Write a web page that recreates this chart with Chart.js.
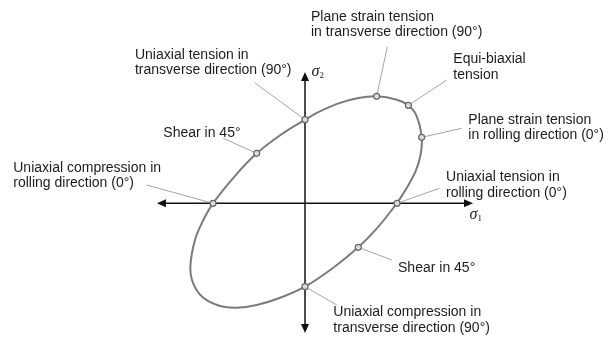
<!DOCTYPE html>
<html><head><meta charset="utf-8">
<script src="https://cdn.jsdelivr.net/npm/chart.js@4/dist/chart.umd.min.js"></script>
<style>html,body{margin:0;padding:0;background:#fff}#wrap{width:616px;height:338px}</style>
</head><body><div id="wrap"><canvas id="c" width="616" height="338"></canvas></div>
<script>
// ---- data (normalised stresses) ----
const states = [
  "Uniaxial tension RD", "Plane strain tension RD", "Equi-biaxial tension",
  "Plane strain tension TD", "Uniaxial tension TD", "Shear 45 (upper)",
  "Uniaxial compression RD", "Shear 45 (lower)", "Uniaxial compression TD"
];
const stateSigma1 = [1.00, 1.268, 1.123, 0.779, 0.00, -0.525, -1.00, 0.579, 0.00];
const stateSigma2 = [0.00, 0.717, 1.065, 1.163, 0.909, 0.543, 0.00, -0.478, -0.906];

const locusSigma1 = [1.00, 1.105, 1.200, 1.255, 1.268, 1.214, 1.123, 0.997, 0.779, 0.594, 0.373, 0.163, 0.00,
  -0.251, -0.525, -0.767, -1.00, -1.105, -1.196, -1.246, -1.215, -1.112, -0.924, -0.742, -0.525, -0.276,
  0.00, 0.311, 0.579, 0.781, 1.00];
const locusSigma2 = [0.00, 0.166, 0.344, 0.523, 0.717, 0.946, 1.065, 1.126, 1.163, 1.147, 1.089, 1.000, 0.909,
  0.754, 0.543, 0.291, 0.00, -0.182, -0.399, -0.691, -0.871, -1.021, -1.116, -1.135, -1.105, -1.029,
  -0.906, -0.697, -0.478, -0.273, 0.00];

const labelTexts = [
  ["Uniaxial tension in", "rolling direction (0°)"],
  ["Plane strain tension", "in rolling direction (0°)"],
  ["Equi-biaxial", "tension"],
  ["Plane strain tension", "in transverse direction (90°)"],
  ["Uniaxial tension in", "transverse direction (90°)"],
  ["Shear in 45°"],
  ["Uniaxial compression in", "rolling direction (0°)"],
  ["Shear in 45°"],
  ["Uniaxial compression in", "transverse direction (90°)"]
];
const axisNames = ["σ", "σ"];
const axisSubs = ["1", "2"];

// ---- layout (data units) ----
const leaderEndX = [1.460, 1.703, 1.540, 0.895, -0.543, -0.888, -1.721, 0.942, 0.345];
const leaderEndY = [0.163, 0.815, 1.340, 1.702, 1.308, 0.707, 0.199, -0.616, -1.105];
const textX = [1.533, 1.775, 1.612, 0.065, -1.848, -1.540, -3.171, 1.011, 0.308];
const textY = [0.242, 0.867, 1.520, 1.987, 1.574, 0.726, 0.343, -0.752, -1.230];
const axisExtent = {xMin: -1.609, xMax: 1.826, yMin: -1.410, yMax: 1.427};
const axisTitlePos = [{x: 1.788, y: -0.171}, {x: 0.071, y: 1.383}];
const LINE_GAP = 15.5;

const locus = locusSigma1.map((x, i) => ({x, y: locusSigma2[i]}));
const markers = stateSigma1.map((x, i) => ({x, y: stateSigma2[i]}));

const datasets = [
  {data: markers, showLine: false, pointRadius: 3, pointHoverRadius: 3,
   pointBackgroundColor: '#dcdcdc', pointBorderColor: '#666', pointBorderWidth: 1.2, order: 0},
  {data: locus, showLine: true, tension: 0.35, pointRadius: 0, borderColor: '#7b7b7b', borderWidth: 2, order: 1}
];
states.forEach((s, i) => {
  datasets.push({
    data: [{x: stateSigma1[i], y: stateSigma2[i]}, {x: leaderEndX[i], y: leaderEndY[i]}],
    showLine: true, pointRadius: 0, borderColor: '#a4a4a4', borderWidth: 1, order: 2
  });
});

const overlay = {
  id: 'overlay',
  beforeDatasetsDraw(chart) {
    const {ctx, scales: {x, y}} = chart;
    const ox = x.getPixelForValue(0), oy = y.getPixelForValue(0);
    const x0 = x.getPixelForValue(axisExtent.xMin), x1 = x.getPixelForValue(axisExtent.xMax);
    const y0 = y.getPixelForValue(axisExtent.yMin), y1 = y.getPixelForValue(axisExtent.yMax);
    ctx.save();
    ctx.strokeStyle = '#111'; ctx.fillStyle = '#111'; ctx.lineWidth = 1.5;
    ctx.beginPath();
    ctx.moveTo(x0 + 6, oy); ctx.lineTo(x1 - 6, oy);
    ctx.moveTo(ox, y1 + 6); ctx.lineTo(ox, y0 - 6);
    ctx.stroke();
    const L = 9, W = 4;
    const tri = (a, b, c) => { ctx.beginPath(); ctx.moveTo(...a); ctx.lineTo(...b); ctx.lineTo(...c); ctx.closePath(); ctx.fill(); };
    tri([x1, oy], [x1 - L, oy - W], [x1 - L, oy + W]);
    tri([x0, oy], [x0 + L, oy - W], [x0 + L, oy + W]);
    tri([ox, y1], [ox - W, y1 + L], [ox + W, y1 + L]);
    tri([ox, y0], [ox - W, y0 - L], [ox + W, y0 - L]);
    ctx.restore();
  },
  afterDatasetsDraw(chart) {
    const {ctx, scales: {x, y}} = chart;
    ctx.save();
    ctx.fillStyle = '#1c1c1c';
    ctx.font = '14px "Liberation Sans", Arial, sans-serif';
    ctx.textBaseline = 'alphabetic'; ctx.textAlign = 'left';
    labelTexts.forEach((lines, i) => {
      const px = x.getPixelForValue(textX[i]), py = y.getPixelForValue(textY[i]);
      lines.forEach((t, k) => ctx.fillText(t, px, py + k * LINE_GAP));
    });
    axisTitlePos.forEach((p, i) => {
      const px = x.getPixelForValue(p.x), py = y.getPixelForValue(p.y);
      ctx.font = 'italic 16px "Liberation Serif", "DejaVu Serif", serif';
      ctx.fillText(axisNames[i], px, py);
      const w = ctx.measureText(axisNames[i]).width;
      ctx.font = '9px "Liberation Serif", serif';
      ctx.fillText(axisSubs[i], px + w, py + 2);
    });
    ctx.restore();
  }
};

new Chart(document.getElementById('c'), {
  type: 'scatter',
  data: {datasets},
  options: {
    responsive: false, devicePixelRatio: 1, animation: false,
    layout: {padding: 0, autoPadding: false},
    plugins: {legend: {display: false}, tooltip: {enabled: false}},
    events: [],
    scales: {
      x: {type: 'linear', display: false, min: -3.315, max: 3.380},
      y: {type: 'linear', display: false, min: -1.464, max: 2.210}
    }
  },
  plugins: [overlay]
});
</script></body></html>
